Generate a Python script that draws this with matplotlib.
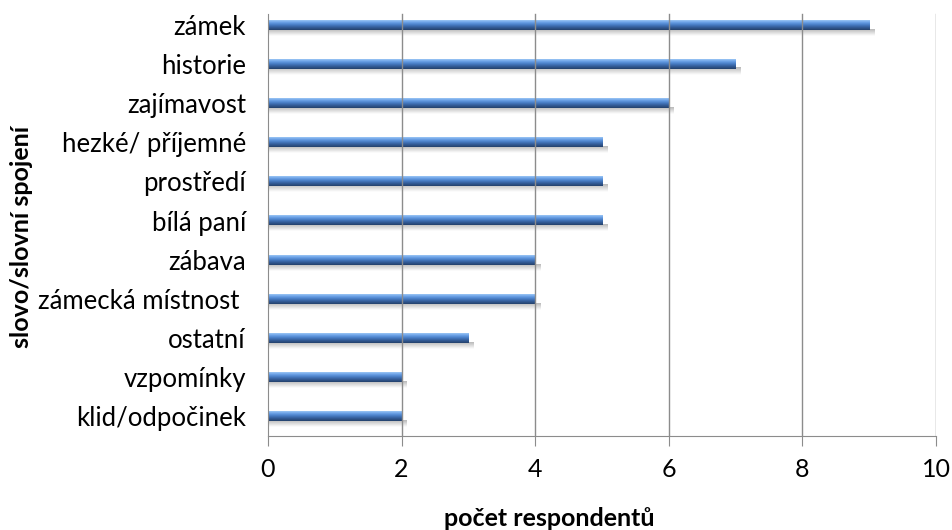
import matplotlib
matplotlib.use("Agg")
import matplotlib.pyplot as plt
from matplotlib.colors import LinearSegmentedColormap
import numpy as np

categories = ["zámek", "historie", "zajímavost", "hezké/ příjemné", "prostředí",
              "bílá paní", "zábava", "zámecká místnost ", "ostatní", "vzpomínky",
              "klid/odpočinek"]
values = [9, 7, 6, 5, 5, 5, 4, 4, 3, 2, 2]
xticks = [0, 2, 4, 6, 8, 10]

plt.rcParams['font.family'] = ['Lato', 'DejaVu Sans']

W, H = 953, 530
fig = plt.figure(figsize=(W / 100, H / 100), dpi=100)
L, R, B, T = 268, 936, 436, 5
ax = fig.add_axes([L / W, 1 - B / H, (R - L) / W, (B - T) / H])

n = len(categories)
y = np.arange(n)[::-1]

frac_top = (B - 14) / (B - T)
for xt in xticks[1:]:
    ax.axvline(xt, ymin=0, ymax=frac_top, color="#8c8c8c", lw=1, zorder=7)

unit = (B - T) / n  # px per category
def h(px):
    return px / unit

bar_cmap = LinearSegmentedColormap.from_list(
    "bar", [(0.0, "#24416b"), (0.3, "#355f9c"), (0.55, "#4a80c8"),
            (0.8, "#6ea4e8"), (1.0, "#9cc6f4")])
shadow_cmap = LinearSegmentedColormap.from_list(
    "sh", [(0.0, (0, 0, 0, 0.0)), (1.0, (0, 0, 0, 0.28))])
grad = np.linspace(0, 1, 64).reshape(-1, 1)

bh = h(10)
for yi, v in zip(y, values):
    ax.imshow(grad, cmap=shadow_cmap, origin="lower", aspect="auto",
              extent=[0.02, v + 0.08, yi - bh / 2 - h(6), yi - bh / 2 + h(1)],
              zorder=2, interpolation="bilinear")
    ax.imshow(grad, cmap=bar_cmap, origin="lower", aspect="auto",
              extent=[0, v, yi - bh / 2, yi + bh / 2], zorder=3,
              interpolation="bilinear")
ax.set_xlim(0, 10)
ax.set_ylim(-0.5, n - 0.5)

ax.set_yticks(y)
ax.set_yticklabels(categories, fontsize=18.5, color="#000000")
ax.set_xticks(xticks)
ax.set_xticklabels([str(v) for v in xticks], fontsize=18)

for s in ["top", "right"]:
    ax.spines[s].set_visible(False)
ax.spines["left"].set_bounds(-0.5, n - 0.5 - (14 - T) / unit)
ax.spines["left"].set_color("#8c8c8c")
ax.spines["left"].set_zorder(8)
ax.spines["bottom"].set_color("#8c8c8c")
ax.tick_params(axis="y", length=0, pad=16)
ax.tick_params(axis="x", length=7, color="#8c8c8c", direction="out", pad=9)

ax.set_xlabel("počet respondentů", fontsize=18, fontweight="bold")
ax.xaxis.set_label_coords((549 - L) / (R - L), -(518 - B) / (B - T))
ax.xaxis.label.set_va("center")
ax.set_ylabel("slovo/slovní spojení", fontsize=18, fontweight="bold")
ax.yaxis.set_label_coords(-(L - 22) / (R - L), (B - 237) / (B - T))
ax.yaxis.label.set_va("center")

fig.savefig("out.png", dpi=100)
